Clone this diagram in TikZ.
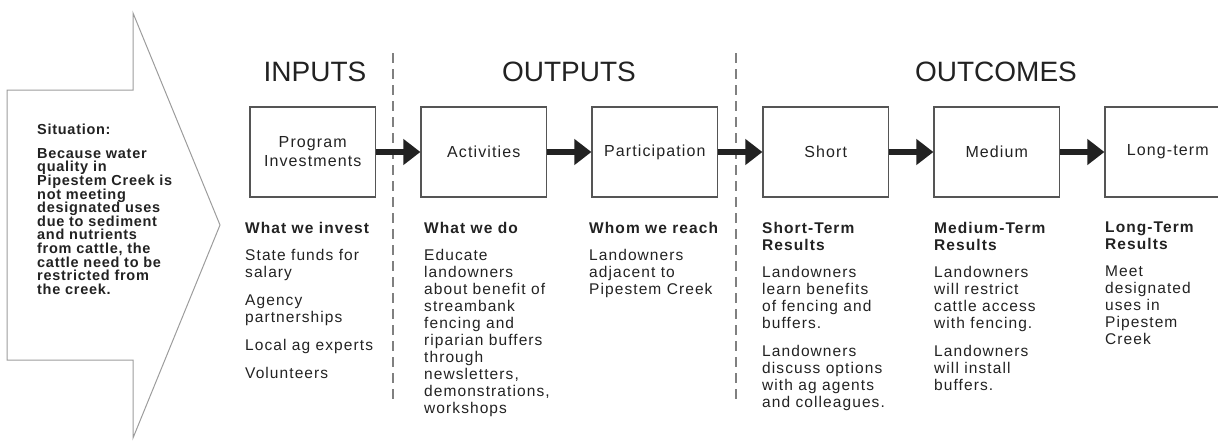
\documentclass[tikz,border=0pt]{standalone}
\usepackage{fontspec}
\setmainfont{Liberation Sans}
\newfontfamily\trackfont[LetterSpace=7]{Liberation Sans}
\newfontfamily\sitfamily[LetterSpace=5]{Liberation Sans}
\usetikzlibrary{arrows.meta,positioning}
\definecolor{ink}{HTML}{222222}
\definecolor{edge}{HTML}{555555}
\definecolor{rulegray}{HTML}{808080}
\definecolor{pale}{HTML}{9C9C9C}
\newcommand{\sitfont}{\sitfamily\bfseries\fontsize{14.5}{13.6}\selectfont\lineskiplimit -10pt\relax}
\tikzset{
  box/.style={draw=edge, line width=1.2pt, rectangle, align=center, text=ink, font=\trackfont\fontsize{16}{19}\selectfont, minimum width=125.5pt, minimum height=90pt, inner sep=2pt},
  hdg/.style={text=ink, font=\fontsize{28}{30}\selectfont, inner sep=0pt},
  colhd/.style={anchor=north west, inner sep=0pt, align=left, text=ink, font=\trackfont\bfseries\fontsize{15.5}{17}\selectfont},
  coltx/.style={anchor=north west, inner sep=0pt, align=left, text=ink, font=\trackfont\fontsize{15.5}{17}\selectfont},
  sittx/.style={anchor=north west, inner sep=0pt, align=left, text=ink, font=\sitfont},
  flow/.style={-{Triangle[length=17pt,width=25pt]}, line width=6pt, draw=ink},
  divider/.style={draw=rulegray, line width=1.5pt, dash pattern=on 10pt off 6pt},
}

\begin{document}
\begin{tikzpicture}[x=1pt, y=-1pt, node distance=44.3pt]
\useasboundingbox (0,0) rectangle (1218,445);
\draw[draw=pale, line width=1pt] (7,90) -- (133,90) -- (133,13) -- (220,225) -- (133,438) -- (133,360) -- (7,360) -- cycle;
\node[sittx] (sit) at (37,124) {Situation:\\[10pt]Because water\\quality in\\Pipestem Creek is\\not meeting\\designated uses\\due to sediment\\and nutrients\\from cattle, the\\cattle need to be\\restricted from\\the creek.};

\draw[divider] (393,53) -- (393,403);
\draw[divider] (736,53) -- (736,403);

\node[box] (inv) at (312.75,152) {Program\\Investments};
\node[box, right=of inv] (act) {Activities};
\node[box, right=of act] (part) {Participation};
\node[box, right=of part] (short) {Short};
\node[box, right=of short] (med) {Medium};
\node[box, right=of med] (long) {Long-term};
\draw[flow] (inv) -- (act); \draw[flow] (act) -- (part); \draw[flow] (part) -- (short);
\draw[flow] (short) -- (med); \draw[flow] (med) -- (long);

\node[hdg] (inputs) at (315,72) {INPUTS};
\node[hdg] (outputs) at (569,72) {OUTPUTS};
\node[hdg] (outcomes) at (996,72) {OUTCOMES};

\node[colhd] (invh) at (245,222) {What we invest};
\node[coltx] (invt) at (245,249) {State funds for\\salary\\[11pt]Agency\\partnerships\\[11pt]Local ag experts\\[11pt]Volunteers};
\node[colhd] (acth) at (424,222) {What we do};
\node[coltx] (actt) at (424,249) {Educate\\landowners\\about benefit of\\streambank\\fencing and\\riparian buffers\\through\\newsletters,\\demonstrations,\\workshops};
\node[colhd] (parth) at (589,222) {Whom we reach};
\node[coltx] (partt) at (589,249) {Landowners\\adjacent to\\Pipestem Creek};
\node[colhd] (shorth) at (762,222) {Short-Term\\Results};
\node[coltx] (shortt) at (762,266) {Landowners\\learn benefits\\of fencing and\\buffers.\\[11pt]Landowners\\discuss options\\with ag agents\\and colleagues.};
\node[colhd] (medh) at (934,222) {Medium-Term\\Results};
\node[coltx] (medt) at (934,266) {Landowners\\will restrict\\cattle access\\with fencing.\\[11pt]Landowners\\will install\\buffers.};
\node[colhd] (longh) at (1105,222) {Long-Term\\Results};
\node[coltx] (longt) at (1105,266) {Meet\\designated\\uses in\\Pipestem\\Creek};
\end{tikzpicture}
\end{document}
